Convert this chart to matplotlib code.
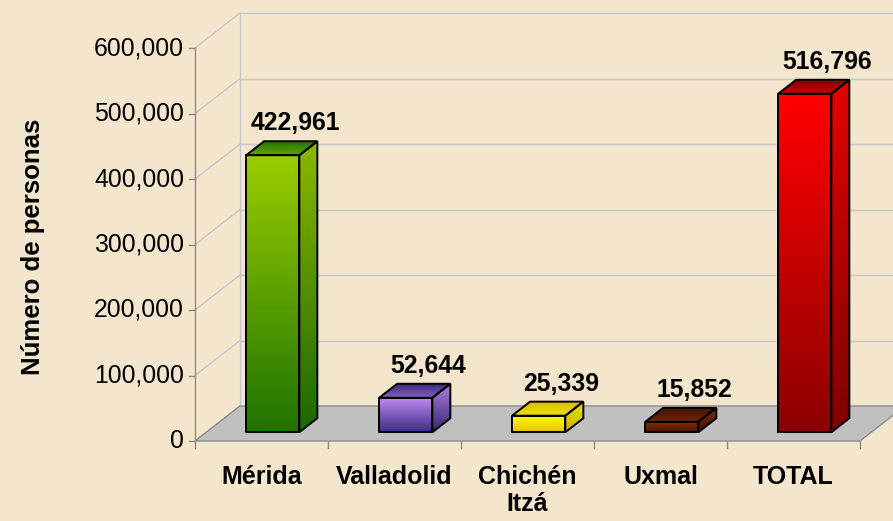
import numpy as np
import matplotlib.pyplot as plt
from matplotlib.patches import Polygon
from matplotlib.colors import to_rgb

# datos
categories = ['Mérida', 'Valladolid', 'Chichén\nItzá', 'Uxmal', 'TOTAL']
values = [422961, 52644, 25339, 15852, 516796]
value_labels = ['422,961', '52,644', '25,339', '15,852', '516,796']
front_top = ['#9ACD00', '#C08CF2', '#FFFF00', '#8E3200', '#FF0000']
front_bottom = ['#1F7400', '#3C2C86', '#E3C400', '#4A1500', '#8C0000']
yticks = [0, 100000, 200000, 300000, 400000, 500000, 600000]
ytick_labels = ['0', '100,000', '200,000', '300,000', '400,000', '500,000', '600,000']

plt.rcParams['font.family'] = ['Liberation Sans', 'DejaVu Sans']

W, H = 893, 521
X0, Y0 = 195, 441          # pixel of the front-left corner (x=-0.5, y=0)
px_x, px_y = 133.0, 65.5 / 1e5   # pixels per category / per unit

fig = plt.figure(figsize=(W / 100, H / 100), dpi=100)
fig.patch.set_facecolor('#F4E5CD')
ax = fig.add_axes([0, 0, 1, 1])
ax.set_autoscale_on(False)
ax.set_xlim(-0.5 - X0 / px_x, -0.5 + (W - X0) / px_x)
ax.set_ylim((Y0 - H) / px_y, Y0 / px_y)
ax.axis('off')

# profundidad (oblicua)
DX, DY = 45 / px_x, 35 / px_y
n = len(categories)
xl, xr = -0.5, n - 0.5
ymax = yticks[-1]
grid_c = '#C6C6CC'
axis_c = '#8C8C8C'

# paredes y rejilla
for v in yticks:
    ax.plot([xl + DX, xr + DX + 1], [v + DY, v + DY], color=grid_c, lw=1, zorder=0.5)
    ax.plot([xl, xl + DX], [v, v + DY], color=grid_c, lw=1, zorder=0.5)
ax.plot([xl + DX, xl + DX], [DY, ymax + DY], color=grid_c, lw=1, zorder=0.5)

# piso
floor = Polygon([(xl, 0), (xr, 0), (xr + DX, DY), (xl + DX, DY)], closed=True,
                fc='#C0C0C0', ec=axis_c, lw=1, zorder=1)
ax.add_patch(floor)

# eje Y frontal
ax.plot([xl, xl], [0, ymax], color=axis_c, lw=1, zorder=2)
for v, lab in zip(yticks, ytick_labels):
    ax.plot([xl - 6 / px_x, xl], [v, v], color=axis_c, lw=1, zorder=2)
    ax.annotate(lab, (xl, v), xytext=(-8, 0), textcoords='offset points',
                ha='right', va='center', fontsize=17.8, color='black')

# eje X
for i in range(n + 1):
    ax.plot([xl + i, xl + i], [0, -7 / px_y], color=axis_c, lw=1, zorder=2)
for i, cat in enumerate(categories):
    ax.annotate(cat, (i, 0), xytext=(0, -17), textcoords='offset points',
                ha='center', va='top', fontsize=18, fontweight='bold',
                linespacing=1.2)


def mix(c1, c2, t):
    a, b = np.array(to_rgb(c1)), np.array(to_rgb(c2))
    return (1 - t) * a + t * b


def shade(poly, c_top, c_bot, z):
    xs, ys = zip(*poly)
    g = np.linspace(0, 1, 64)[:, None]
    img = (1 - g) * np.array(to_rgb(c_top)) + g * np.array(to_rgb(c_bot))
    img = np.clip(img, 0, 1)[:, None, :]
    im = ax.imshow(img, extent=(min(xs), max(xs), min(ys), max(ys)),
                   origin='upper', aspect='auto', zorder=z,
                   interpolation='bilinear')
    p = Polygon(poly, closed=True, fc='none', ec='black', lw=1.4, zorder=z + 0.1)
    ax.add_patch(p)
    im.set_clip_path(p)


# barras 3D
bw = 0.4
t0, t1 = 0.25, 0.65
bx, by = (t1 - t0) * DX, (t1 - t0) * DY
for i, v in enumerate(values):
    fx, fy = i + t0 * DX, t0 * DY
    x1, x2 = fx - bw / 2, fx + bw / 2
    front = [(x1, fy), (x2, fy), (x2, fy + v), (x1, fy + v)]
    side = [(x2, fy), (x2 + bx, fy + by), (x2 + bx, fy + by + v), (x2, fy + v)]
    top = [(x1, fy + v), (x2, fy + v), (x2 + bx, fy + v + by), (x1 + bx, fy + v + by)]
    ct, cb = front_top[i], front_bottom[i]
    shade(front, ct, cb, 3)
    shade(side, mix(ct, 'black', 0.1), mix(cb, 'black', 0.1), 3)
    shade(top, mix(cb, 'black', 0.05), mix(ct, cb, 0.45), 3)
    ax.annotate(value_labels[i], (fx + bx / 2 + bw / 4, fy + by + v),
                xytext=(0, 8), textcoords='offset points',
                ha='center', va='baseline', fontsize=17.8, fontweight='bold',
                zorder=5)

fig.text(33 / W, 1 - 247 / H, 'Número de personas', rotation=90,
         ha='center', va='center', fontsize=18.5, fontweight='bold')

fig.savefig('out.png', dpi=100, facecolor=fig.get_facecolor())
